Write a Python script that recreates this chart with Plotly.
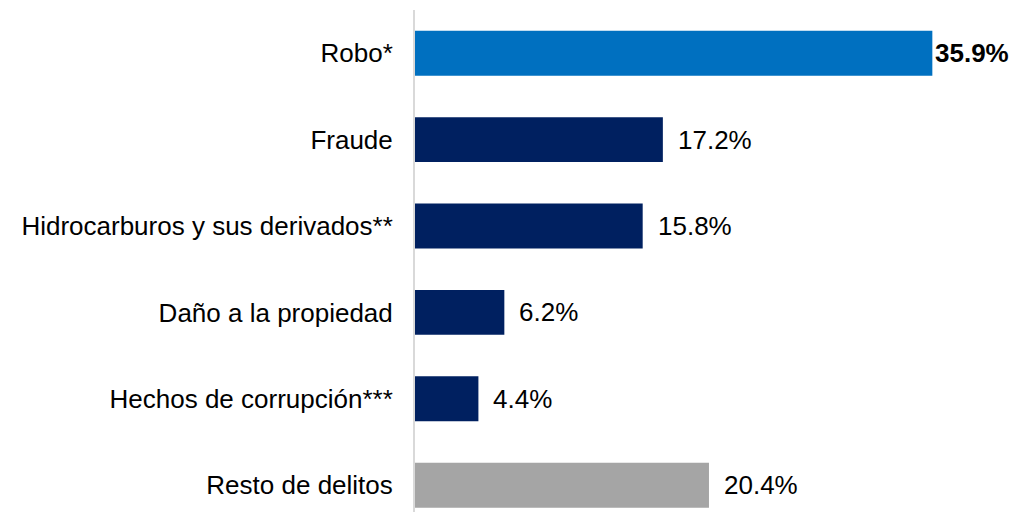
import plotly.graph_objects as go

categorias = ["Robo*", "Fraude", "Hidrocarburos y sus derivados**",
              "Daño a la propiedad", "Hechos de corrupción***", "Resto de delitos"]
valores = [35.9, 17.2, 15.8, 6.2, 4.4, 20.4]
etiquetas = ["35.9%", "17.2%", "15.8%", "6.2%", "4.4%", "20.4%"]
colores = ["#0070C0", "#002060", "#002060", "#002060", "#002060", "#A5A5A5"]

FONT = "Liberation Sans, Arial, sans-serif"

fig = go.Figure(go.Bar(
    x=valores, y=categorias, orientation="h",
    marker=dict(color=colores, line=dict(width=0)),
    width=0.52,
))

# etiquetas de datos a la derecha de cada barra
for i, (v, t) in enumerate(zip(valores, etiquetas)):
    negrita = i == 0
    fig.add_annotation(
        x=v, y=categorias[i], text=f"<b>{t}</b>" if negrita else t,
        showarrow=False, xanchor="left", yanchor="middle",
        xshift=1 if negrita else 13,
        font=dict(family=FONT, size=26, color="#000000"),
    )

# la página tiene 8px de margen en el body
fig.update_layout(
    width=1001, height=504,
    margin=dict(l=407, r=0, t=2, b=0),
    paper_bgcolor="white", plot_bgcolor="white",
    showlegend=False,
    font=dict(family=FONT, size=26, color="#000000"),
    xaxis=dict(range=[0, 41.22], visible=False),
    yaxis=dict(
        range=[5.31, -0.5], categoryorder="array", categoryarray=categorias,
        showline=True, linecolor="#D9D9D9", linewidth=2,
        showgrid=False, zeroline=False, ticks="", ticklabelstandoff=15,
        tickfont=dict(family=FONT, size=26, color="#000000"),
    ),
)

fig.write_html("out.html")
